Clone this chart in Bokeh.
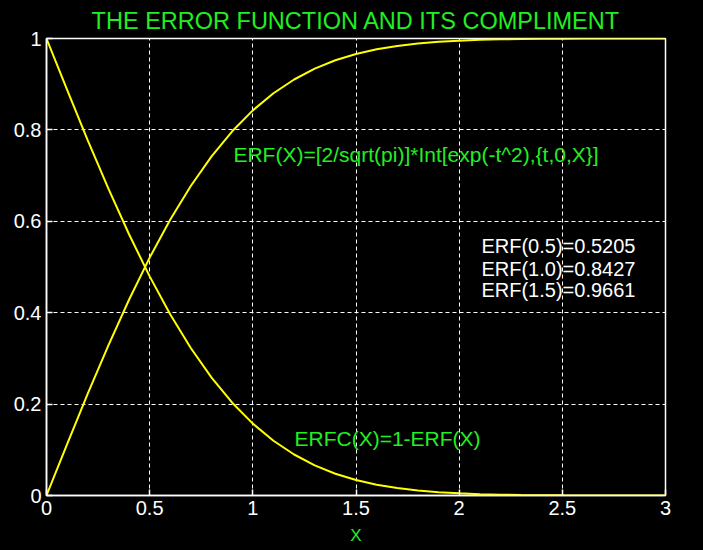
from bokeh.plotting import figure
from bokeh.models import Range1d, FixedTicker, Label, GlobalInlineStyleSheet
from bokeh.embed import file_html
from bokeh.resources import INLINE

x_vals = [0.0, 0.1, 0.2, 0.3, 0.4, 0.5, 0.6, 0.7, 0.8, 0.9, 1.0,
          1.1, 1.2, 1.3, 1.4, 1.5, 1.6, 1.7, 1.8, 1.9, 2.0,
          2.1, 2.2, 2.3, 2.4, 2.5, 2.6, 2.7, 2.8, 2.9, 3.0]
erf_vals = [0.0, 0.1125, 0.2227, 0.3286, 0.4284, 0.5205, 0.6039, 0.6778, 0.7421, 0.7969, 0.8427,
            0.8802, 0.9103, 0.9340, 0.9523, 0.9661, 0.9763, 0.9838, 0.9891, 0.9928, 0.9953,
            0.9970, 0.9981, 0.9989, 0.9993, 0.9996, 0.9998, 0.9999, 0.9999, 1.0, 1.0]
erfc_vals = [1.0, 0.8875, 0.7773, 0.6714, 0.5716, 0.4795, 0.3961, 0.3222, 0.2579, 0.2031, 0.1573,
             0.1198, 0.0897, 0.0660, 0.0477, 0.0339, 0.0237, 0.0162, 0.0109, 0.0072, 0.0047,
             0.0030, 0.0019, 0.0011, 0.0007, 0.0004, 0.0002, 0.0001, 0.0001, 0.0, 0.0]
x_ticks = [0, 0.5, 1, 1.5, 2, 2.5, 3]
y_ticks = [0, 0.2, 0.4, 0.6, 0.8, 1]
x_tick_labels = ["0", "0.5", "1", "1.5", "2", "2.5", "3"]
y_tick_labels = ["0", "0.2", "0.4", "0.6", "0.8", "1"]
title_text = "THE ERROR FUNCTION AND ITS COMPLIMENT"
xlabel_text = "X"
formula_text = "ERF(X)=[2/sqrt(pi)]*Int[exp(-t^2),{t,0,X}]"
erfc_text = "ERFC(X)=1-ERF(X)"
value_lines = ["ERF(0.5)=0.5205", "ERF(1.0)=0.8427", "ERF(1.5)=0.9661"]

FONT = "Liberation Sans"
GREEN = "#22ee22"
WHITE = "#ffffff"
YELLOW = "#ffff00"

p = figure(width=703, height=550, output_backend="svg", toolbar_location=None,
           x_range=Range1d(0, 3), y_range=Range1d(0, 1),
           min_border_left=46, min_border_right=38, min_border_top=38, min_border_bottom=55,
           background_fill_color="black", border_fill_color="black")
p.stylesheets = [GlobalInlineStyleSheet(css="html, body { background: #000; }")]

p.title.text = title_text
p.title.text_color = GREEN
p.title.text_font = FONT
p.title.text_font_size = "23.5px"
p.title.text_font_style = "normal"
p.title.align = "center"
p.title.offset = 0
p.title.standoff = 10

p.outline_line_color = WHITE
p.outline_line_width = 1.5

for ax in (p.xaxis[0], p.yaxis[0]):
    ax.axis_line_color = WHITE
    ax.axis_line_width = 1.5
    ax.major_tick_line_color = WHITE
    ax.major_tick_line_width = 1.5
    ax.major_tick_in = 6
    ax.major_tick_out = 0
    ax.minor_tick_line_color = None
    ax.major_label_text_color = WHITE
    ax.major_label_text_font = FONT
    ax.major_label_text_font_size = "20px"

p.xaxis[0].ticker = FixedTicker(ticks=x_ticks)
p.yaxis[0].ticker = FixedTicker(ticks=y_ticks)
p.xaxis[0].major_label_overrides = dict(zip(x_ticks, x_tick_labels))
p.yaxis[0].major_label_overrides = dict(zip(y_ticks, y_tick_labels))
p.xaxis[0].major_label_standoff = 5
p.yaxis[0].major_label_standoff = 5
p.xaxis[0].axis_label = xlabel_text
p.xaxis[0].axis_label_text_color = GREEN
p.xaxis[0].axis_label_text_font = FONT
p.xaxis[0].axis_label_text_font_size = "17px"
p.xaxis[0].axis_label_text_font_style = "normal"
p.xaxis[0].axis_label_standoff = 8

p.xgrid.ticker = FixedTicker(ticks=x_ticks)
p.ygrid.ticker = FixedTicker(ticks=y_ticks)
for g in (p.xgrid[0], p.ygrid[0]):
    g.grid_line_color = WHITE
    g.grid_line_dash = "4 3"
    g.grid_line_width = 1

p.line(x_vals, erf_vals, line_color=YELLOW, line_width=2)
p.line(x_vals, erfc_vals, line_color=YELLOW, line_width=2)

p.add_layout(Label(x=0.906, y=0.747, text=formula_text, text_color=GREEN, text_font=FONT,
                   text_font_size="21px", text_baseline="middle"))
p.add_layout(Label(x=1.202, y=0.1247, text=erfc_text, text_color=GREEN, text_font=FONT,
                   text_font_size="21px", text_baseline="middle"))
value_y = [0.547, 0.4956, 0.4486]
for t, yy in zip(value_lines, value_y):
    p.add_layout(Label(x=2.108, y=yy, text=t, text_color=WHITE, text_font=FONT,
                       text_font_size="20px", text_baseline="middle"))

open("out.html", "w").write(file_html(p, INLINE))
